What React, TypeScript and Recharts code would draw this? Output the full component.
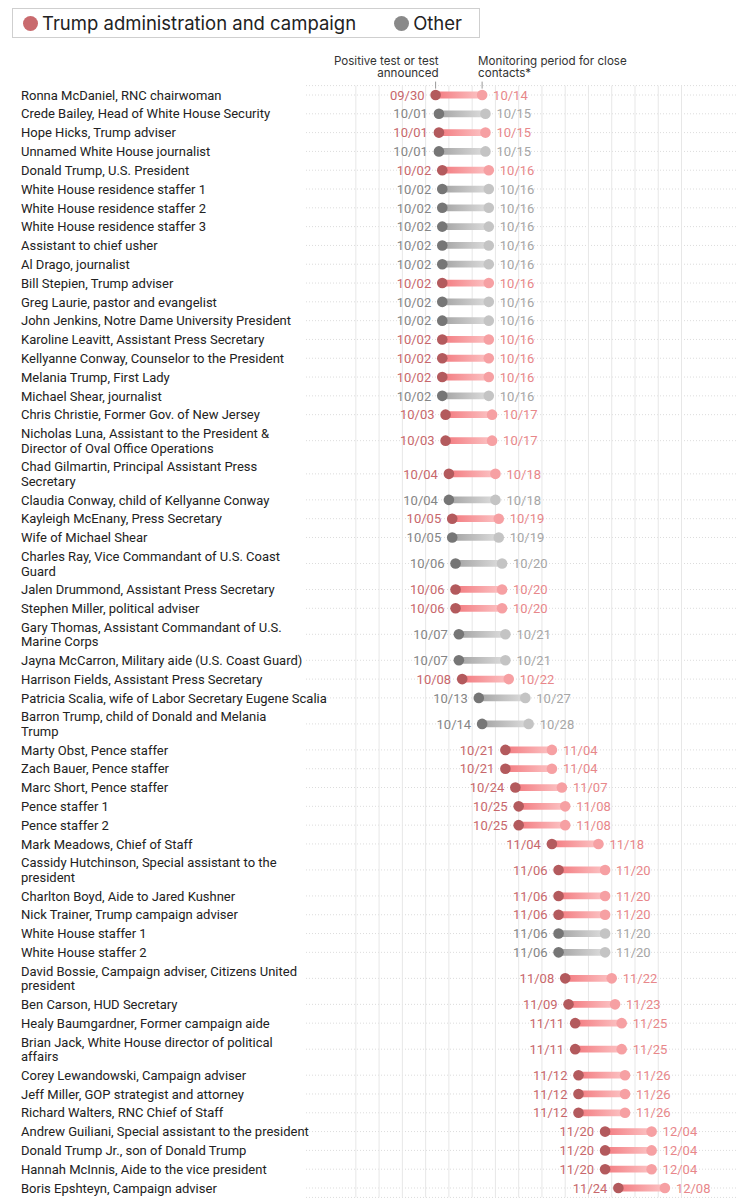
import React from 'react';
import { ComposedChart, Scatter, XAxis, YAxis, CartesianGrid, ReferenceArea, ReferenceDot, ReferenceLine } from 'recharts';

const names: string[] = [
  'Ronna McDaniel, RNC chairwoman',
  'Crede Bailey, Head of White House Security',
  'Hope Hicks, Trump adviser',
  'Unnamed White House journalist',
  'Donald Trump, U.S. President',
  'White House residence staffer 1',
  'White House residence staffer 2',
  'White House residence staffer 3',
  'Assistant to chief usher',
  'Al Drago, journalist',
  'Bill Stepien, Trump adviser',
  'Greg Laurie, pastor and evangelist',
  'John Jenkins, Notre Dame University President',
  'Karoline Leavitt, Assistant Press Secretary',
  'Kellyanne Conway, Counselor to the President',
  'Melania Trump, First Lady',
  'Michael Shear, journalist',
  'Chris Christie, Former Gov. of New Jersey',
  'Nicholas Luna, Assistant to the President &\nDirector of Oval Office Operations',
  'Chad Gilmartin, Principal Assistant Press\nSecretary',
  'Claudia Conway, child of Kellyanne Conway',
  'Kayleigh McEnany, Press Secretary',
  'Wife of Michael Shear',
  'Charles Ray, Vice Commandant of U.S. Coast\nGuard',
  'Jalen Drummond, Assistant Press Secretary',
  'Stephen Miller, political adviser',
  'Gary Thomas, Assistant Commandant of U.S.\nMarine Corps',
  'Jayna McCarron, Military aide (U.S. Coast Guard)',
  'Harrison Fields, Assistant Press Secretary',
  'Patricia Scalia, wife of Labor Secretary Eugene Scalia',
  'Barron Trump, child of Donald and Melania\nTrump',
  'Marty Obst, Pence staffer',
  'Zach Bauer, Pence staffer',
  'Marc Short, Pence staffer',
  'Pence staffer 1',
  'Pence staffer 2',
  'Mark Meadows, Chief of Staff',
  'Cassidy Hutchinson, Special assistant to the\npresident',
  'Charlton Boyd, Aide to Jared Kushner',
  'Nick Trainer, Trump campaign adviser',
  'White House staffer 1',
  'White House staffer 2',
  'David Bossie, Campaign adviser, Citizens United\npresident',
  'Ben Carson, HUD Secretary',
  'Healy Baumgardner, Former campaign aide',
  'Brian Jack, White House director of political\naffairs',
  'Corey Lewandowski, Campaign adviser',
  'Jeff Miller, GOP strategist and attorney',
  'Richard Walters, RNC Chief of Staff',
  'Andrew Guiliani, Special assistant to the president',
  'Donald Trump Jr., son of Donald Trump',
  'Hannah McInnis, Aide to the vice president',
  'Boris Epshteyn, Campaign adviser',
];

// T = Trump administration and campaign, O = Other
const groups: string[] = [
  'T', 'O', 'T', 'O', 'T', 'O', 'O', 'O', 'O', 'O',
  'T', 'O', 'O', 'T', 'T', 'T', 'O', 'T', 'T', 'T',
  'O', 'T', 'O', 'O', 'T', 'T', 'O', 'O', 'T', 'O',
  'O', 'T', 'T', 'T', 'T', 'T', 'T', 'T', 'T', 'T',
  'O', 'O', 'T', 'T', 'T', 'T', 'T', 'T', 'T', 'T',
  'T', 'T', 'T',
];

const startDates: string[] = [
  '09/30', '10/01', '10/01', '10/01', '10/02', '10/02', '10/02', '10/02', '10/02', '10/02',
  '10/02', '10/02', '10/02', '10/02', '10/02', '10/02', '10/02', '10/03', '10/03', '10/04',
  '10/04', '10/05', '10/05', '10/06', '10/06', '10/06', '10/07', '10/07', '10/08', '10/13',
  '10/14', '10/21', '10/21', '10/24', '10/25', '10/25', '11/04', '11/06', '11/06', '11/06',
  '11/06', '11/06', '11/08', '11/09', '11/11', '11/11', '11/12', '11/12', '11/12', '11/20',
  '11/20', '11/20', '11/24',
];

const endDates: string[] = [
  '10/14', '10/15', '10/15', '10/15', '10/16', '10/16', '10/16', '10/16', '10/16', '10/16',
  '10/16', '10/16', '10/16', '10/16', '10/16', '10/16', '10/16', '10/17', '10/17', '10/18',
  '10/18', '10/19', '10/19', '10/20', '10/20', '10/20', '10/21', '10/21', '10/22', '10/27',
  '10/28', '11/04', '11/04', '11/07', '11/08', '11/08', '11/18', '11/20', '11/20', '11/20',
  '11/20', '11/20', '11/22', '11/23', '11/25', '11/25', '11/26', '11/26', '11/26', '12/04',
  '12/04', '12/04', '12/08',
];

const gridDates: string[] = [
  '09/06', '09/13', '09/20', '09/27', '10/04', '10/11', '10/18', '10/25',
  '11/01', '11/08', '11/15', '11/22', '11/29', '12/06', '12/13',
];
const domainDates: string[] = ['08/22', '12/30'];

const legendLabels: string[] = ['Trump administration and campaign', 'Other'];
const annotationTexts: string[] = ['Positive test or test\nannounced', 'Monitoring period for close\ncontacts*'];

const toDay = (s: string) => {
  const [m, d] = s.split('/').map(Number);
  return Date.UTC(2020, m - 1, d) / 86400000;
};

const palette: Record<string, any> = {
  T: { startDot: '#b35a5d', endDot: '#f6a0a3', startText: '#c8676b', endText: '#e8878a', legend: '#c96a6e', grad: 'gradT' },
  O: { startDot: '#767676', endDot: '#c4c4c4', startText: '#858585', endText: '#a6a6a6', legend: '#898989', grad: 'gradO' },
};

const DOUBLE = 1.766;
let acc = 0;
const rows = names.map((n, i) => {
  const lines = n.split('\n');
  const h = lines.length > 1 ? DOUBLE : 1;
  const y = acc + h / 2;
  acc += h;
  return {
    lines,
    y,
    group: groups[i],
    s: toDay(startDates[i]),
    e: toDay(endDates[i]),
    startLabel: startDates[i],
    endLabel: endDates[i],
  };
});
const totalUnits = acc;
const rowCenters = rows.map((r) => r.y);
const startPts = rows.map((r) => ({ x: r.s, y: r.y, label: r.startLabel, group: r.group }));
const endPts = rows.map((r) => ({ x: r.e, y: r.y, label: r.endLabel, group: r.group }));
const gridDays = gridDates.map(toDay);

const NameTick = (props: any) => {
  const { y, index, payload } = props;
  let idx = typeof index === 'number' ? index : rowCenters.indexOf(payload?.value);
  const row = rows[idx];
  if (!row) return null;
  const lh = 14.7;
  const y0 = y - ((row.lines.length - 1) * lh) / 2;
  return (
    <text x={21} y={y0} fontFamily="Roboto" fontSize={13} fill="#222">
      {row.lines.map((l: string, i: number) => (
        <tspan key={i} x={21} y={y0 + i * lh} dy="0.36em">
          {l}
        </tspan>
      ))}
    </text>
  );
};

const StartShape = (p: any) => {
  const { cx, cy, payload } = p;
  const c = palette[payload.group];
  return (
    <g>
      <circle cx={cx} cy={cy} r={5.3} fill={c.startDot} />
      <text x={cx - 11} y={cy} dy="0.36em" textAnchor="end" fontFamily="Roboto" fontSize={13} fill={c.startText}>
        {payload.label}
      </text>
    </g>
  );
};

const EndShape = (p: any) => {
  const { cx, cy, payload } = p;
  const c = palette[payload.group];
  return (
    <g>
      <circle cx={cx} cy={cy} r={5.3} fill={c.endDot} />
      <text x={cx + 11} y={cy} dy="0.36em" textAnchor="start" fontFamily="Roboto" fontSize={13} fill={c.endText}>
        {payload.label}
      </text>
    </g>
  );
};

const makeAnnotation = (text: string, anchor: 'end' | 'start', dx: number) => (p: any) => {
  const { cx, cy } = p;
  const lines = text.split('\n');
  return (
    <g>
      <line x1={cx} x2={cx} y1={cy - 4} y2={cy + 3} stroke="#999" strokeWidth={1} />
      <text fontFamily="Inter" fontSize={11.6} fill="#333" textAnchor={anchor}>
        {lines.map((l, i) => (
          <tspan key={i} x={cx + dx} y={cy - 20.5 + i * 11.8}>
            {l}
          </tspan>
        ))}
      </text>
    </g>
  );
};

const Legend = () => (
  <div
    style={{
      position: 'absolute',
      left: 12,
      top: 8,
      width: 466,
      height: 28,
      border: '1px solid #cfcfcf',
      fontFamily: 'Inter',
      fontSize: 18.5,
      color: '#222',
      display: 'flex',
      alignItems: 'center',
      boxSizing: 'content-box',
    }}
  >
    <span style={{ width: 15, height: 15, borderRadius: 8, background: palette.T.legend, marginLeft: 10, marginRight: 4 }} />
    <span>{legendLabels[0]}</span>
    <span style={{ width: 15, height: 15, borderRadius: 8, background: palette.O.legend, marginLeft: 38, marginRight: 4 }} />
    <span>{legendLabels[1]}</span>
  </div>
);

export default function App() {
  return (
    <div style={{ position: 'absolute', left: 0, top: 0, width: 755, height: 1200, background: '#fff' }}>
      <ComposedChart width={755} height={1200} margin={{ top: 85.6, right: 17, bottom: 2.6, left: 0 }}>
        <defs>
          <linearGradient id="gradT" x1="0" y1="0" x2="1" y2="0">
            <stop offset="0%" stopColor="#f37b80" />
            <stop offset="100%" stopColor="#fcc4c5" />
          </linearGradient>
          <linearGradient id="gradO" x1="0" y1="0" x2="1" y2="0">
            <stop offset="0%" stopColor="#a4a4a4" />
            <stop offset="100%" stopColor="#dddddd" />
          </linearGradient>
        </defs>
        <CartesianGrid horizontal={true} vertical={false} stroke="#dcdcdc" strokeDasharray="1 2" strokeWidth={1} />
        <XAxis
          type="number"
          dataKey="x"
          domain={[toDay(domainDates[0]), toDay(domainDates[1])]}
          allowDataOverflow
          hide
        />
        <YAxis
          type="number"
          dataKey="y"
          domain={[0, totalUnits]}
          reversed
          ticks={rowCenters}
          interval={0}
          width={306}
          tick={<NameTick />}
          axisLine={false}
          tickLine={false}
          allowDataOverflow
        />
        {gridDays.map((d, i) => (
          <ReferenceLine key={'g' + i} x={d} stroke="#e7e7e7" strokeWidth={1} zIndex={-50} />
        ))}
        {rows.map((r, i) => (
          <ReferenceArea
            key={'bar' + i}
            x1={r.s}
            x2={r.e}
            y1={r.y - 0.18}
            y2={r.y + 0.18}
            fill={`url(#${palette[r.group].grad})`}
            fillOpacity={1}
            stroke="none"
            ifOverflow="visible"
            zIndex={100}
          />
        ))}
        <Scatter data={startPts} shape={StartShape} isAnimationActive={false} />
        <Scatter data={endPts} shape={EndShape} isAnimationActive={false} />
        <ReferenceDot
          x={rows[0].s}
          y={0}
          r={0}
          ifOverflow="visible"
          shape={makeAnnotation(annotationTexts[0], 'end', 3)}
        />
        <ReferenceDot
          x={rows[0].e}
          y={0}
          r={0}
          ifOverflow="visible"
          shape={makeAnnotation(annotationTexts[1], 'start', -4)}
        />
      </ComposedChart>
      <Legend />
    </div>
  );
}
